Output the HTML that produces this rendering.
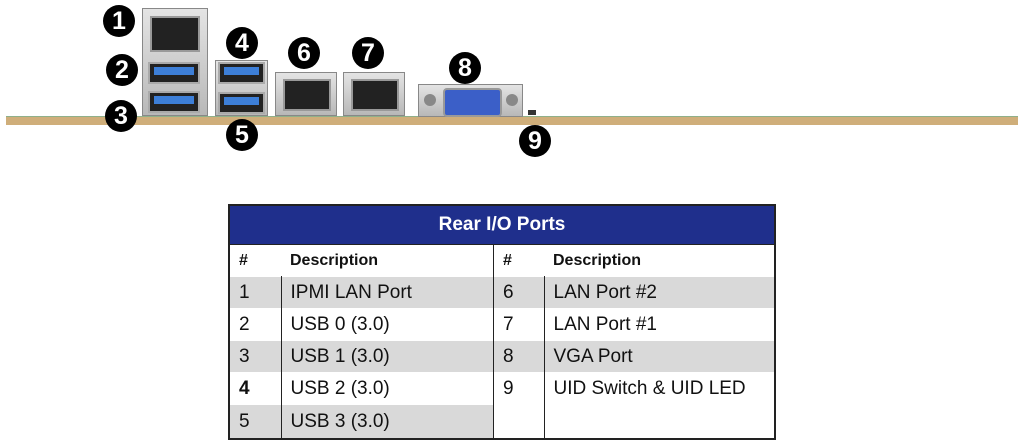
<!DOCTYPE html>
<html><head><style>
body{margin:0;width:1026px;height:444px;background:#fff;position:relative;overflow:hidden;font-family:"Liberation Sans",Arial,sans-serif}
.a{position:absolute}
.c{position:absolute;width:32px;height:32px;border-radius:50%;background:#000;color:#fff;font-weight:bold;font-size:25px;line-height:32px;text-align:center}
.m{background:linear-gradient(#e4e4e4,#b8b8b8);border:1px solid #888;box-sizing:border-box}
.rj{position:absolute;background:#222;border:2px solid #999}
.usb{position:absolute;background:#222;border:2px solid #aaa;box-sizing:border-box}
.usb i{position:absolute;left:4px;right:4px;top:3px;height:8px;background:#3d7fd8}
table{position:absolute;left:228px;top:204px;width:548px;border-collapse:collapse;font-size:19px;color:#111}
td{height:31px;padding:0 0 0 9px;border-top:1px solid #fff}
.h td{font-weight:bold;font-size:16px}
.g td{background:#d9d9d9}
</style></head><body>
<div class="a" style="left:6px;top:116px;width:1012px;height:8px;background:#cfae7a;border-top:1px solid #8fb08a"></div>
<div class="a m" style="left:142px;top:8px;width:66px;height:108px"></div>
<div class="rj" style="left:150px;top:16px;width:46px;height:32px"></div>
<div class="usb" style="left:148px;top:62px;width:52px;height:22px"><i></i></div>
<div class="usb" style="left:148px;top:91px;width:52px;height:22px"><i></i></div>
<div class="a m" style="left:215px;top:60px;width:53px;height:56px"></div>
<div class="usb" style="left:218px;top:62px;width:47px;height:22px"><i></i></div>
<div class="usb" style="left:218px;top:92px;width:47px;height:22px"><i></i></div>
<div class="a m" style="left:275px;top:72px;width:62px;height:44px"></div>
<div class="rj" style="left:283px;top:79px;width:44px;height:28px"></div>
<div class="a m" style="left:343px;top:72px;width:62px;height:44px"></div>
<div class="rj" style="left:351px;top:79px;width:44px;height:28px"></div>
<div class="a m" style="left:418px;top:84px;width:105px;height:33px"></div>
<div class="a" style="left:443px;top:88px;width:55px;height:25px;background:#3b5fc8;border:2px solid #999;border-radius:4px"></div>
<div class="a" style="left:424px;top:94px;width:12px;height:12px;border-radius:50%;background:#888"></div>
<div class="a" style="left:506px;top:94px;width:12px;height:12px;border-radius:50%;background:#888"></div>
<div class="a" style="left:528px;top:110px;width:8px;height:5px;background:#333"></div>
<div class="c" style="left:103px;top:5px">1</div>
<div class="c" style="left:106px;top:54px">2</div>
<div class="c" style="left:105px;top:100px">3</div>
<div class="c" style="left:226px;top:27px">4</div>
<div class="c" style="left:226px;top:119px">5</div>
<div class="c" style="left:288px;top:37px">6</div>
<div class="c" style="left:352px;top:37px">7</div>
<div class="c" style="left:449px;top:52px">8</div>
<div class="c" style="left:519px;top:125px">9</div>
<table style="border:2px solid #222">
<tr><td colspan="4" style="background:#1f2f8c;color:#fff;font-weight:bold;font-size:19px;text-align:center;height:38px;padding:0;border-bottom:1px solid #222">Rear I/O Ports</td></tr>
<tr class="h"><td style="width:42px">#</td><td style="border-right:1px solid #222;width:203px">Description</td><td style="width:41px">#</td><td>Description</td></tr>
<tr class="g"><td style="border-right:1px solid #222">1</td><td style="border-right:1px solid #222">IPMI LAN Port</td><td style="border-right:1px solid #222">6</td><td>LAN Port #2</td></tr>
<tr><td style="border-right:1px solid #222">2</td><td style="border-right:1px solid #222">USB 0 (3.0)</td><td style="border-right:1px solid #222">7</td><td>LAN Port #1</td></tr>
<tr class="g"><td style="border-right:1px solid #222">3</td><td style="border-right:1px solid #222">USB 1 (3.0)</td><td style="border-right:1px solid #222">8</td><td>VGA Port</td></tr>
<tr><td style="border-right:1px solid #222;font-weight:bold">4</td><td style="border-right:1px solid #222">USB 2 (3.0)</td><td style="border-right:1px solid #222">9</td><td>UID Switch &amp; UID LED</td></tr>
<tr class="g"><td style="border-right:1px solid #222;height:33px">5</td><td style="border-right:1px solid #222">USB 3 (3.0)</td><td style="border-right:1px solid #222;background:#fff"></td><td style="background:#fff"></td></tr>
</table>
</body></html>
